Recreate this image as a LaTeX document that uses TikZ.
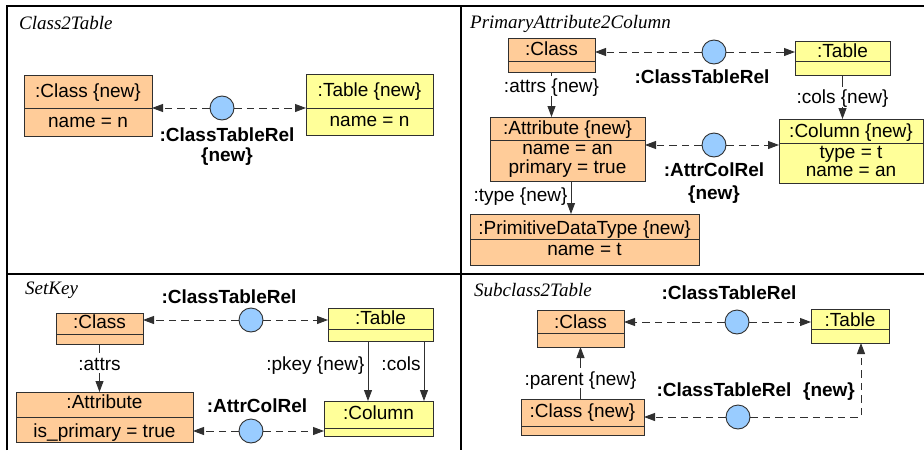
\documentclass[tikz,border=0pt]{standalone}
\usepackage{fontspec}
\setmainfont{Liberation Sans}
\newfontfamily\serifit{Liberation Serif}
\usetikzlibrary{arrows.meta}

\definecolor{clsfill}{HTML}{FFCC99}
\definecolor{tblfill}{HTML}{FFFF99}
\definecolor{relfill}{HTML}{99CCFF}
\definecolor{inkgray}{HTML}{303030}

\tikzset{
  every node/.style={inner sep=0pt, text height=15.6pt, text depth=2pt},
  obox/.style={draw=inkgray, line width=0.9pt, rectangle, inner sep=0pt, outer sep=0pt, text height=0pt, text depth=0pt},
  divline/.style={draw=inkgray, line width=0.9pt},
  reltxt/.style={font=\fontsize{19}{22}\selectfont\bfseries},
  relnode/.style={circle, draw=inkgray, line width=0.9pt, fill=relfill, minimum size=24pt, inner sep=0pt, text height=0pt, text depth=0pt},
  link/.style={draw=inkgray, line width=0.9pt, dash pattern=on 7.5pt off 5pt, -{Triangle[length=11pt,width=8pt]}},
  assoc/.style={draw=inkgray, line width=0.9pt, -{Triangle[length=11pt,width=8pt]}},
  role/.style={inner sep=1pt, fill=white},
  sidelabel/.style={anchor=east, inner sep=3pt},
  ptitle/.style={anchor=west, font=\serifit\itshape\fontsize{19}{22}\selectfont},
  frame/.style={draw=black, line width=1.4pt},
}

% object box: name, fill, x1, x2, y1, y2, y of the compartment line
\newcommand\objbox[7]{%
  \node[obox, fill=#2, minimum width={(#4-#3)*1pt}, minimum height={(#6-#5)*1pt}] (#1) at ({(#3+#4)/2},{(#5+#6)/2}) {};
  \draw[divline] (#3,#7) -- (#4,#7);
}

\begin{document}
\begin{tikzpicture}[x=1pt,y=-1pt,font=\fontsize{19}{22}\selectfont]
\useasboundingbox (0,0) rectangle (924,450);

% panel frame
\draw[frame] (7,450) -- (7,6) -- (924,6);
\draw[frame] (461,6) -- (461,450);
\draw[frame] (7,274) -- (924,274);

% ---------- Class2Table ----------
\node[ptitle] (ttl1) at (19,23) {Class2Table};
\objbox{c1}{clsfill}{24}{152}{75}{136}{108}
\node (c1h) at (88,91) {:Class \{new\}};
\node (c1b) at (88,121) {name = n};
\objbox{t1}{tblfill}{306}{433}{74}{135}{108}
\node (t1h) at (369.5,90) {:Table \{new\}};
\node (t1b) at (369.5,120) {name = n};
\node[relnode] (r1) at (222,108) {};
\draw[link] (r1) -- (c1.east |- r1);
\draw[link] (r1) -- (t1.west |- r1);
\node[reltxt] (r1l) at (227,135) {:ClassTableRel};
\node[reltxt] (r1n) at (227,155) {\{new\}};

% ---------- PrimaryAttribute2Column ----------
\node[ptitle] (ttl2) at (470,22) {PrimaryAttribute2Column};
\objbox{c2}{clsfill}{508}{595}{38}{72}{61}
\node (c2h) at (551.5,49) {:Class};
\objbox{t2}{tblfill}{795}{890}{41}{75}{61}
\node (t2h) at (842.5,51) {:Table};
\node[relnode] (r2) at (714,52) {};
\draw[link] (r2) -- (c2.east |- r2);
\draw[link] (r2) -- (t2.west |- r2);
\node[reltxt] (r2l) at (702,77) {:ClassTableRel};

\objbox{a2}{clsfill}{490}{645}{117}{181}{140}
\node (a2h) at (567.5,128) {:Attribute \{new\}};
\node (a2b1) at (567.5,148) {name = an};
\node (a2b2) at (567.5,167) {primary = true};
\objbox{k2}{tblfill}{779}{923}{119}{183}{143}
\node (k2h) at (851,131) {:Column \{new\}};
\node (k2b1) at (851,152) {type = t};
\node (k2b2) at (851,170) {name = an};
\node[relnode] (r3) at (714,145) {};
\draw[link] (r3) -- (a2.east |- r3);
\draw[link] (r3) -- (k2.west |- r3);
\node[reltxt] (r3l) at (714,170) {:AttrColRel};
\node[reltxt] (r3n) at (714,193) {\{new\}};

\draw[assoc] (c2.south) -- (c2.south |- a2.north) node[role, pos=0.31] (l2a) {:attrs \{new\}};
\draw[assoc] (t2.south) -- (t2.south |- k2.north) node[role, pos=0.5] (l2c) {:cols \{new\}};

\objbox{p2}{clsfill}{470}{699}{214}{265}{239}
\node (p2h) at (584.5,228) {:PrimitiveDataType \{new\}};
\node (p2b) at (584.5,249) {name = t};
\draw[assoc] ([xshift=3.5pt]a2.south) -- ([xshift=3.5pt]a2.south |- p2.north) node[sidelabel, pos=0.42] (l2t) {:type \{new\}};

% ---------- SetKey ----------
\node[ptitle] (ttl3) at (25,288) {SetKey};
\objbox{c3}{clsfill}{56}{143}{313}{344}{334}
\node (c3h) at (99.5,322) {:Class};
\objbox{t3}{tblfill}{328}{433}{308}{341}{329}
\node (t3h) at (380.5,318) {:Table};
\node[relnode] (r4) at (251,320) {};
\draw[link] (r4) -- (c3.east |- r4);
\draw[link] (r4) -- (t3.west |- r4);
\node[reltxt] (r4l) at (229,297) {:ClassTableRel};

\objbox{a3}{clsfill}{16}{193}{392}{442}{417}
\node (a3h) at (104.5,402) {:Attribute};
\node (a3b) at (104.5,431) {is\_primary = true};
\objbox{k3}{tblfill}{324}{433}{401}{436}{428}
\node (k3h) at (378.5,413) {:Column};
\node[relnode] (r5) at (251,431) {};
\draw[link] (r5) -- (a3.east |- r5);
\draw[link] (r5) -- (k3.west |- r5);
\node[reltxt] (r5l) at (257,406) {:AttrColRel};

\draw[assoc] (c3.south) -- (c3.south |- a3.north) node[role, pos=0.4] (l3a) {:attrs};
\draw[assoc] ([xshift=-12.5pt]t3.south) -- ([xshift=-12.5pt]t3.south |- k3.north) node[sidelabel, pos=0.37] (l3p) {:pkey \{new\}};
\draw[assoc] ([xshift=43.5pt]t3.south) -- ([xshift=43.5pt]t3.south |- k3.north) node[sidelabel, pos=0.37] (l3c) {:cols};

% ---------- Subclass2Table ----------
\node[ptitle] (ttl4) at (474,290) {Subclass2Table};
\objbox{c4}{clsfill}{537}{624}{310}{347}{333}
\node (c4h) at (580.5,322) {:Class};
\objbox{t4}{tblfill}{811}{889}{309}{343}{329}
\node (t4h) at (850,320) {:Table};
\node[relnode] (r6) at (737,322) {};
\draw[link] (r6) -- (c4.east |- r6);
\draw[link] (r6) -- (t4.west |- r6);
\node[reltxt] (r6l) at (729,293) {:ClassTableRel};

\objbox{c5}{clsfill}{521}{644}{399}{435}{426}
\node (c5h) at (582.5,411) {:Class \{new\}};
\draw[assoc] (c4.south |- c5.north) -- (c4.south) node[role, pos=0.4] (l4p) {:parent \{new\}};

\node[relnode] (r7) at (738,417) {};
\coordinate (r7corner) at (861,417);
\draw[link] (r7) -- (c5.east |- r7);
\draw[link] (r7) -- (r7corner) -- (r7corner |- t4.south);
\node[reltxt] (r7l) at (724,390) {:ClassTableRel};
\node[reltxt] (r7n) at (829,390) {\{new\}};
\end{tikzpicture}
\end{document}
